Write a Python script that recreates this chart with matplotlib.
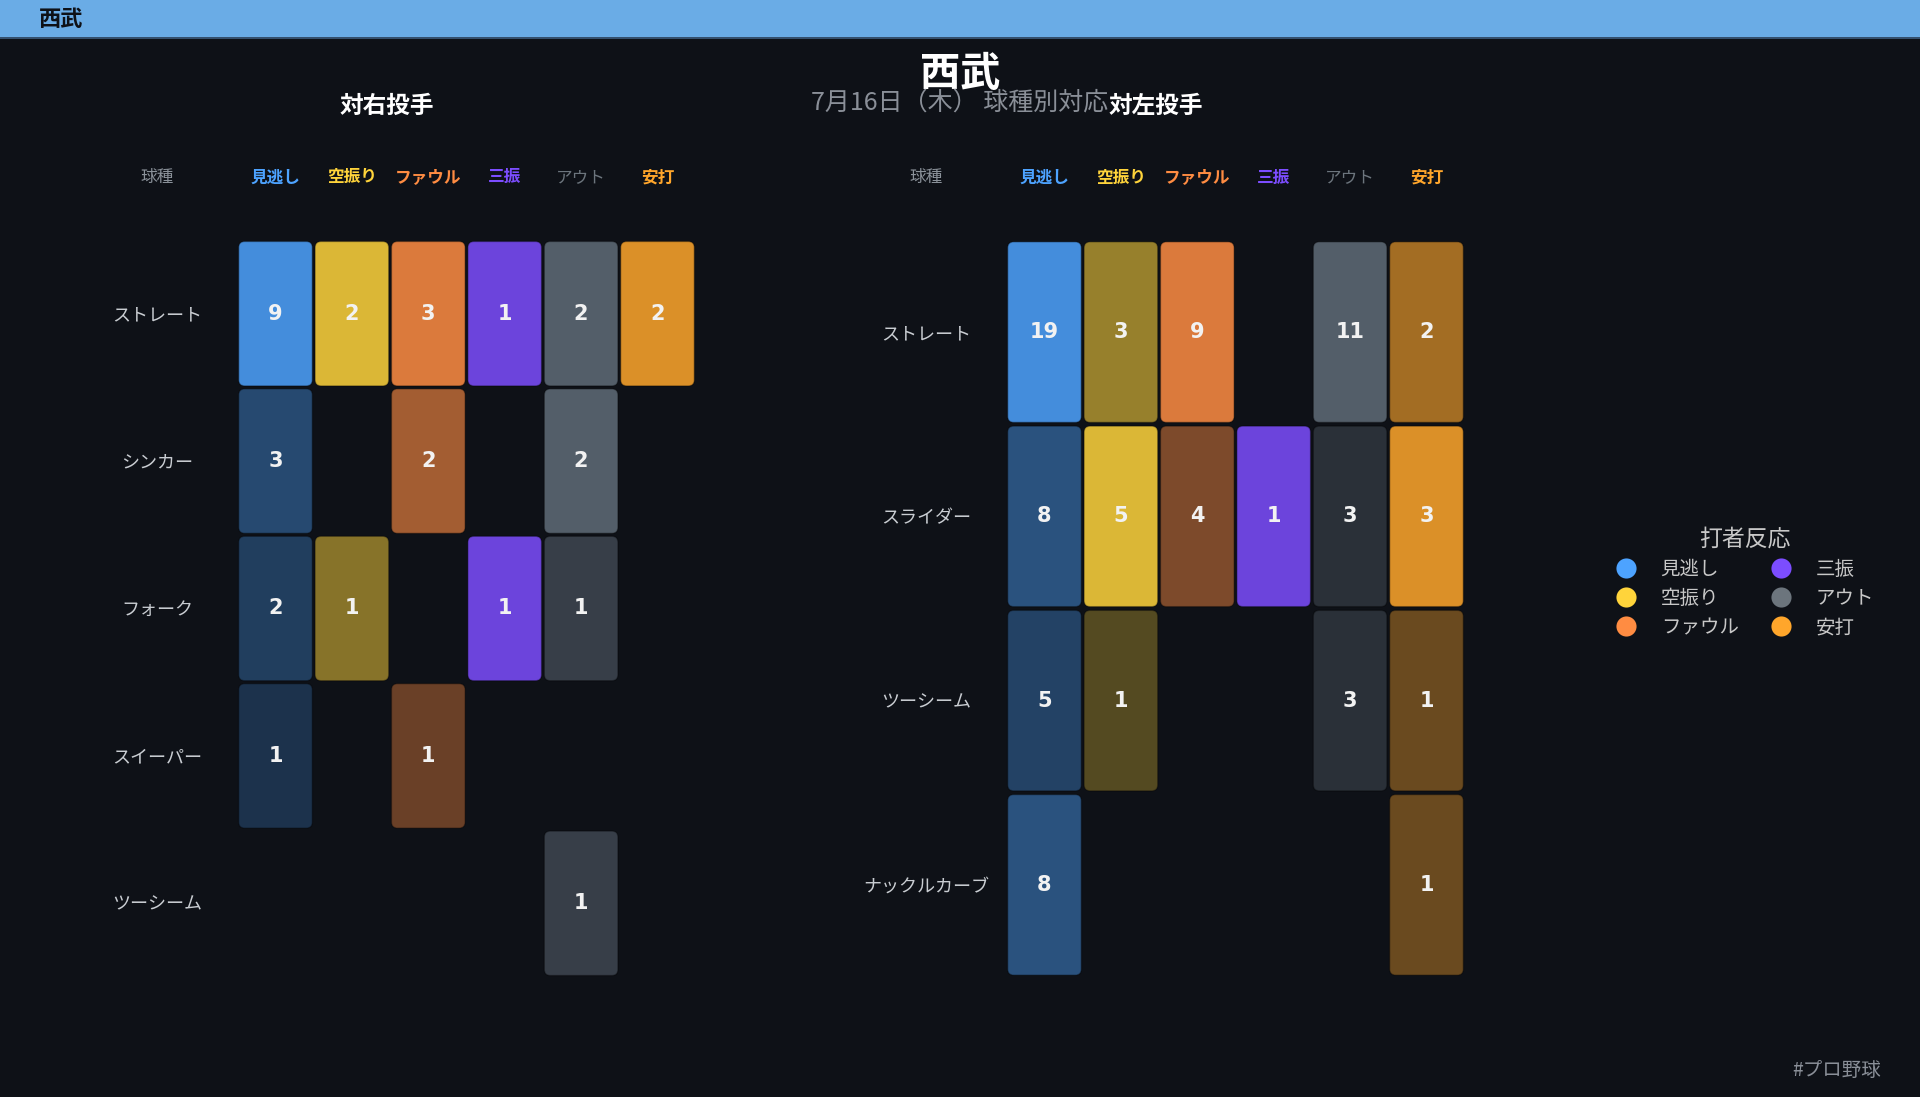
import numpy as np
import matplotlib
matplotlib.use("Agg")
import matplotlib.pyplot as plt
from matplotlib.patches import FancyBboxPatch, Rectangle
from matplotlib.lines import Line2D
from matplotlib.colors import to_rgb

plt.rcParams['font.family'] = ['Noto Sans CJK JP', 'DejaVu Sans']

# データ
outcomes = ['見逃し', '空振り', 'ファウル', '三振', 'アウト', '安打']
outcome_colors = ['#4DA3FF', '#FFD43B', '#FF8C42', '#7C4DFF', '#6C757D', '#FFA62B']
cell_colors = ['#4DA3FF', '#FFD43B', '#FF8C42', '#7C4DFF', '#5F6B78', '#FFA62B']

right_pitches = ['ストレート', 'シンカー', 'フォーク', 'スイーパー', 'ツーシーム']
right_counts = [
    [9, 2, 3, 1, 2, 2],
    [3, 0, 2, 0, 2, 0],
    [2, 1, 0, 1, 1, 0],
    [1, 0, 1, 0, 0, 0],
    [0, 0, 0, 0, 1, 0],
]

left_pitches = ['ストレート', 'スライダー', 'ツーシーム', 'ナックルカーブ']
left_counts = [
    [19, 3, 9, 0, 11, 2],
    [8, 5, 4, 1, 3, 3],
    [5, 1, 0, 0, 3, 1],
    [8, 0, 0, 0, 0, 1],
]

team = '西武'
subtitle = '7月16日（木） 球種別対応'
legend_title = '打者反応'
hashtag = '#プロ野球'

BG = '#0E1117'
W, H = 1920, 1097

fig = plt.figure(figsize=(W / 100, H / 100), dpi=100, facecolor=BG)

# 上部のバー
fig.patches.append(Rectangle((0, 1 - 38 / H), 1, 38 / H, transform=fig.transFigure,
                             facecolor='#6AACE6', edgecolor='none'))
fig.patches.append(Rectangle((0, 1 - 39 / H), 1, 1.5 / H, transform=fig.transFigure,
                             facecolor='#34506E', edgecolor='none'))
fig.text(39 / W, 1 - 19 / H, team, ha='left', va='center', fontsize=16,
         fontweight='bold', color='#0E1117')

fig.text(0.5, 1 - 74 / H, team, ha='center', va='center', fontsize=29,
         fontweight='bold', color='white')
fig.text(0.5, 1 - 103 / H, subtitle, ha='center', va='center', fontsize=18,
         color='#8A8F98')


def blend(c, a):
    bg = np.array(to_rgb(BG))
    return tuple(bg + a * (np.array(to_rgb(c)) - bg))


def draw_panel(left_px, title, pitches, counts):
    top_px, bottom_px = 240, 977
    col_px = 76.4
    n = len(pitches)
    row_px = (bottom_px - top_px) / n
    ax = fig.add_axes([left_px / W, 1 - bottom_px / H, 6 * col_px / W,
                       (bottom_px - top_px) / H])
    ax.set_facecolor(BG)
    ax.set_xlim(-0.5, 5.5)
    ax.set_ylim(n - 0.5, -0.5)
    ax.axis('off')

    vals = np.array(counts, dtype=float)
    colmax = vals.max(axis=0)
    asp = col_px / row_px
    for i in range(n):
        for j in range(len(outcomes)):
            v = vals[i, j]
            if v == 0:
                continue
            a = 0.15 + 0.7 * v / colmax[j]
            box = FancyBboxPatch((j - 0.482, i - 0.49), 0.964, 0.98,
                                 boxstyle='round,pad=0,rounding_size=0.08',
                                 mutation_aspect=asp,
                                 facecolor=blend(cell_colors[j], a),
                                 edgecolor=(0, 0, 0, 0.3), linewidth=1)
            ax.add_patch(box)
            ax.text(j, i, str(int(v)), ha='center', va='center', fontsize=15,
                    fontweight='bold', color='#F2F2F2', family='DejaVu Sans')

    # 行ラベル
    for i, p in enumerate(pitches):
        ax.text(-1.55, i + 0.01, p, ha='center', va='center', fontsize=13,
                color='#C9CDD2', clip_on=False)

    # 見出し
    hy = -0.5 - (top_px - 177.5) / row_px
    ax.text(-1.55, hy, '球種', ha='center', va='center', fontsize=12,
            color='#8B929A', clip_on=False)
    for j, (o, c) in enumerate(zip(outcomes, outcome_colors)):
        ax.text(j, hy, o, ha='center', va='center', fontsize=12,
                fontweight='normal' if o == 'アウト' else 'bold',
                color=c, clip_on=False)

    ty = -0.5 - (top_px - 105.5) / row_px
    ax.text(1.46, ty, title, ha='center', va='center', fontsize=17,
            fontweight='bold', color='white', clip_on=False)
    return ax


draw_panel(237.3, '対右投手', right_pitches, right_counts)
draw_panel(1006.3, '対左投手', left_pitches, left_counts)

# 凡例
handles = [Line2D([], [], marker='o', linestyle='none', markersize=14.5,
                  markerfacecolor=c, markeredgecolor='none', label=o)
           for o, c in zip(outcomes, outcome_colors)]
leg = fig.legend(handles=handles, ncol=2, loc='center',
                 bbox_to_anchor=(1745 / W, 1 - 583 / H),
                 frameon=False, title=legend_title, fontsize=14,
                 title_fontsize=16.5, labelcolor='#C8C8C8',
                 handletextpad=1.3, columnspacing=1.65, labelspacing=0.42,
                 handlelength=1.0, borderpad=0.2)
leg.get_title().set_color('#C8C8C8')

fig.text(1881 / W, 1 - 1070 / H, hashtag, ha='right', va='center', fontsize=14,
         color='#8A8F98')

fig.savefig('out.png', dpi=100, facecolor=BG)
